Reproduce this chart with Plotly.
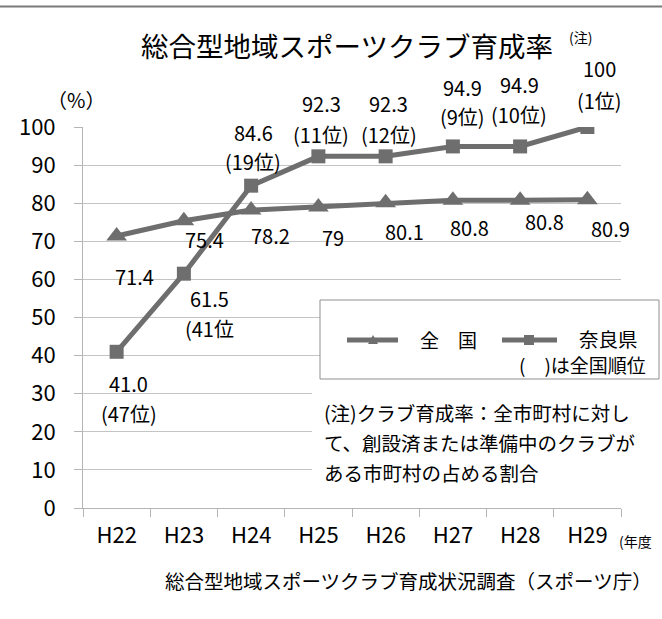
import plotly.graph_objects as go

# ---- data -------------------------------------------------------------
years = ["H22", "H23", "H24", "H25", "H26", "H27", "H28", "H29"]
zenkoku = [71.4, 75.4, 78.2, 79, 80.1, 80.8, 80.8, 80.9]          # 全国 (%)
nara = [41.0, 61.5, 84.6, 92.3, 92.3, 94.9, 94.9, 100]             # 奈良県 (%)
nara_rank_labels = ["(47位)", "(41位", "(19位)", "(11位)", "(12位)", "(9位)", "(10位)", "(1位)"]
y_ticks = [0, 10, 20, 30, 40, 50, 60, 70, 80, 90, 100]

# ---- label placement (pixel offsets from each marker) -------------------
zen_dx = [18, 21, 19, 15, 19, 17, 24, 23]
zen_dy = [41, 19, 25, 30, 29, 27, 21, 29]
nara_dx = [12, 26, 2, 3, 3, 10, -1, 12]
nara_val_dy = [32, 25, -53, -53, -53, -59, -62, -59]
nara_rank_dy = [62, 55, -24, -22, -22, -30, -32, -27]

W, H = 662, 619
GRAY = "#6e6e6e"
FONT = "Noto Sans CJK JP"


def px(x):
    return x / W


def py(y):
    return 1 - y / H


fig = go.Figure()
fig.add_trace(go.Scatter(
    x=years, y=zenkoku, mode="lines+markers", name="全 国",
    line=dict(color=GRAY, width=5),
    marker=dict(symbol="triangle-up", size=18, color=GRAY),
    showlegend=False, hoverinfo="skip",
))
fig.add_trace(go.Scatter(
    x=years, y=nara, mode="lines+markers", name="奈良県",
    line=dict(color=GRAY, width=5),
    marker=dict(symbol="square", size=14, color=GRAY),
    showlegend=False, hoverinfo="skip",
))

ann = []
lab_font = dict(family=FONT, size=20, color="#000")

for i, (yr, v) in enumerate(zip(years, zenkoku)):
    ann.append(dict(x=yr, y=v, xref="x", yref="y", text=f"{v:g}", showarrow=False,
                    xshift=zen_dx[i], yshift=-zen_dy[i], font=lab_font,
                    xanchor="center", yanchor="middle"))

for i, (yr, v) in enumerate(zip(years, nara)):
    val_txt = f"{v:.1f}" if v < 100 else f"{v:g}"
    ann.append(dict(x=yr, y=v, xref="x", yref="y", text=val_txt, showarrow=False,
                    xshift=nara_dx[i], yshift=-nara_val_dy[i], font=lab_font,
                    xanchor="center", yanchor="middle"))
    ann.append(dict(x=yr, y=v, xref="x", yref="y", text=nara_rank_labels[i], showarrow=False,
                    xshift=nara_dx[i], yshift=-nara_rank_dy[i], font=lab_font,
                    xanchor="center", yanchor="middle"))


def text(x, y, s, size, anchor="center"):
    ann.append(dict(x=px(x), y=py(y), xref="paper", yref="paper", text=s, showarrow=False,
                    font=dict(family=FONT, size=size, color="#000"),
                    xanchor=anchor, yanchor="middle"))


# titles and side texts
text(347, 45, "総合型地域スポーツクラブ育成率", 27.5)
text(580, 37, "(注)", 14)
text(76, 100, "（%）", 20)
text(617, 541, "(年度", 14, "left")
text(408, 580, "総合型地域スポーツクラブ育成状況調査（スポーツ庁）", 19.5)

# legend texts
text(448, 339, "全　国", 19)
text(608, 338, "奈良県", 19.5)
text(648, 364, "(　)は全国順位", 19, "right")

# note
text(322, 413, "(注)クラブ育成率：全市町村に対し", 19.5, "left")
text(322, 442, "て、創設済または準備中のクラブが", 19.5, "left")
text(322, 472, "ある市町村の占める割合", 19.5, "left")

shapes = [
    # rule along the top edge
    dict(type="line", xref="paper", yref="paper", x0=0, x1=1, y0=py(6.5), y1=py(6.5),
         line=dict(color="#7a7a7a", width=2)),
    # note background
    dict(type="rect", xref="paper", yref="paper", x0=px(312), x1=px(662), y0=py(492), y1=py(386),
         fillcolor="white", line=dict(width=0), layer="above"),
    # legend box
    dict(type="rect", xref="paper", yref="paper", x0=px(320), x1=px(659), y0=py(379), y1=py(300),
         fillcolor="white", line=dict(color="#8f8f8f", width=1), layer="above"),
    # legend samples
    dict(type="line", xref="paper", yref="paper", x0=px(347), x1=px(398), y0=py(340), y1=py(340),
         line=dict(color=GRAY, width=5), layer="above"),
    dict(type="path", xref="paper", yref="paper",
         path=f"M {px(368)},{py(344)} L {px(378)},{py(344)} L {px(373)},{py(335)} Z",
         fillcolor=GRAY, line=dict(width=0), layer="above"),
    dict(type="line", xref="paper", yref="paper", x0=px(502), x1=px(557), y0=py(340), y1=py(340),
         line=dict(color=GRAY, width=5), layer="above"),
    dict(type="rect", xref="paper", yref="paper", x0=px(524), x1=px(534), y0=py(345), y1=py(335),
         fillcolor=GRAY, line=dict(width=0), layer="above"),
]

fig.update_layout(
    template="none",
    width=W, height=H, autosize=False,
    margin=dict(l=0, r=0, t=0, b=0, pad=0, autoexpand=False),
    paper_bgcolor="white", plot_bgcolor="white",
    font=dict(family=FONT, color="#000"),
    showlegend=False,
    annotations=ann, shapes=shapes,
    xaxis=dict(
        domain=[px(83), px(621)], type="category", range=[-0.5, 7.5], automargin=False,
        tickson="boundaries", ticks="outside", ticklen=8, tickcolor="#b5b5b5", tickwidth=1,
        showline=True, linecolor="#b5b5b5", linewidth=1, showgrid=False, zeroline=False,
        tickfont=dict(family=FONT, size=22, color="#000"), ticklabelstandoff=8,
    ),
    yaxis=dict(
        domain=[py(508), py(127)], range=[0, 100], tickvals=y_ticks, automargin=False,
        ticks="outside", ticklen=8, tickcolor="#b5b5b5", tickwidth=1,
        showline=True, linecolor="#b5b5b5", linewidth=1,
        showgrid=True, gridcolor="#c4c4c4", gridwidth=1, zeroline=False,
        tickfont=dict(family=FONT, size=22, color="#000"), ticklabelstandoff=14,
    ),
)

fig.write_html("out.html")
